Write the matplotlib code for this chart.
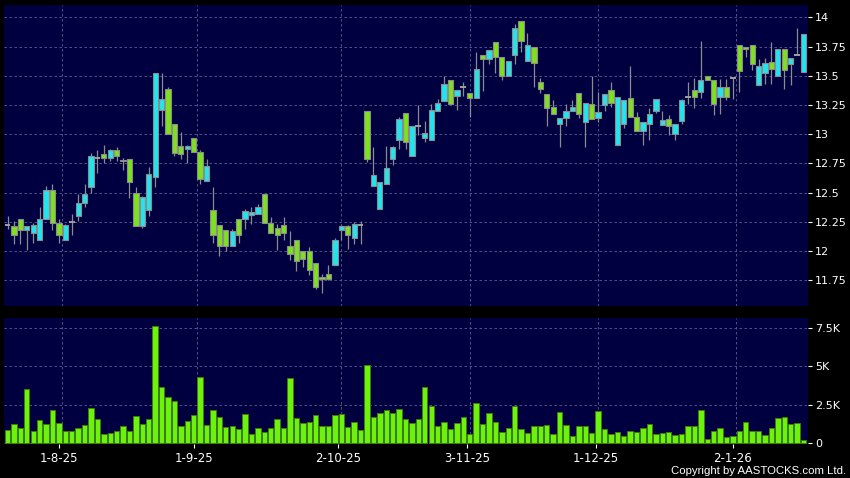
import numpy as np
import matplotlib
matplotlib.use("Agg")
import matplotlib.pyplot as plt
from matplotlib.ticker import FuncFormatter

# daily candles, oldest first
opens = [12.22, 12.21, 12.27, 12.18, 12.15, 12.09, 12.27, 12.52, 12.24, 12.09,
         12.25, 12.30, 12.41, 12.55, 12.80, 12.83, 12.80, 12.86, 12.77, 12.79,
         12.50, 12.21, 12.35, 12.63, 13.21, 13.39, 13.09, 12.90, 12.87, 12.97,
         12.85, 12.60, 12.35, 12.22, 12.18, 12.04, 12.27, 12.27, 12.31, 12.32,
         12.49, 12.24, 12.20, 12.22, 12.04, 12.09, 12.00, 12.00, 11.90, 11.78,
         11.80, 11.88, 12.18, 12.21, 12.11, 12.22, 13.20, 12.56, 12.36, 12.57,
         12.79, 12.95, 13.18, 12.81, 13.07, 12.97, 12.95, 13.20, 13.28, 13.46,
         13.33, 13.40, 13.35, 13.31, 13.68, 13.64, 13.79, 13.66, 13.50, 13.68,
         13.97, 13.63, 13.75, 13.45, 13.34, 13.23, 13.09, 13.14, 13.20, 13.35,
         13.10, 13.26, 13.14, 13.25, 13.38, 12.91, 13.09, 13.31, 13.15, 13.03,
         13.09, 13.20, 13.08, 13.13, 13.00, 13.11, 13.32, 13.38, 13.36, 13.50,
         13.46, 13.32, 13.40, 13.48, 13.76, 13.75, 13.76, 13.42, 13.52, 13.62,
         13.50, 13.73, 13.60, 13.68, 13.53]
highs = [12.30, 12.26, 12.27, 12.21, 12.24, 12.38, 12.56, 12.57, 12.27, 12.23,
         12.32, 12.49, 12.57, 12.84, 12.86, 12.91, 12.87, 12.89, 12.80, 12.79,
         12.55, 12.47, 12.72, 13.52, 13.52, 13.40, 13.09, 13.02, 12.91, 12.97,
         12.86, 12.79, 12.55, 12.22, 12.18, 12.19, 12.27, 12.36, 12.38, 12.40,
         12.49, 12.29, 12.23, 12.29, 12.17, 12.09, 12.00, 12.03, 11.90, 11.80,
         11.88, 12.11, 12.22, 12.22, 12.25, 12.26, 13.20, 12.89, 12.59, 12.90,
         12.90, 13.15, 13.18, 13.07, 13.25, 13.11, 13.26, 13.30, 13.50, 13.46,
         13.38, 13.45, 13.35, 13.70, 13.68, 13.72, 13.79, 13.66, 13.63, 13.94,
         13.97, 13.87, 13.75, 13.48, 13.34, 13.29, 13.14, 13.26, 13.29, 13.35,
         13.27, 13.50, 13.36, 13.34, 13.45, 13.32, 13.29, 13.58, 13.19, 13.10,
         13.22, 13.30, 13.20, 13.16, 13.09, 13.30, 13.45, 13.48, 13.80, 13.50,
         13.46, 13.47, 13.47, 13.48, 13.76, 13.75, 13.76, 13.64, 13.65, 13.79,
         13.73, 13.73, 13.65, 13.91, 13.86]
lows = [12.19, 12.06, 12.06, 12.01, 12.07, 12.09, 12.27, 12.18, 12.07, 12.09,
        12.14, 12.26, 12.38, 12.50, 12.67, 12.75, 12.77, 12.77, 12.69, 12.45,
        12.21, 12.20, 12.30, 12.55, 13.07, 13.00, 12.81, 12.79, 12.75, 12.85,
        12.57, 12.60, 12.07, 11.96, 12.00, 12.04, 12.07, 12.19, 12.23, 12.32,
        12.24, 12.15, 12.01, 12.09, 11.92, 11.83, 11.86, 11.79, 11.67, 11.64,
        11.75, 11.88, 12.09, 12.02, 12.06, 12.06, 12.76, 12.56, 12.36, 12.57,
        12.74, 12.87, 12.87, 12.81, 12.99, 12.93, 12.95, 13.20, 13.28, 13.26,
        13.21, 13.33, 13.15, 13.31, 13.37, 13.60, 13.52, 13.46, 13.50, 13.60,
        13.70, 13.63, 13.40, 13.35, 13.07, 13.17, 12.89, 13.07, 13.20, 13.14,
        12.89, 13.13, 13.10, 13.20, 13.23, 12.91, 13.05, 13.15, 13.03, 12.91,
        12.95, 13.18, 13.08, 12.99, 12.95, 13.09, 13.26, 13.22, 13.31, 13.46,
        13.16, 13.17, 13.29, 13.30, 13.36, 13.66, 13.55, 13.42, 13.43, 13.43,
        13.50, 13.39, 13.42, 13.68, 13.53]
closes = [12.22, 12.14, 12.18, 12.21, 12.22, 12.27, 12.52, 12.24, 12.14, 12.22,
          12.25, 12.41, 12.49, 12.81, 12.80, 12.80, 12.86, 12.81, 12.78, 12.59,
          12.21, 12.46, 12.66, 13.52, 13.30, 13.00, 12.84, 12.83, 12.90, 12.85,
          12.62, 12.73, 12.14, 12.04, 12.04, 12.17, 12.14, 12.34, 12.33, 12.38,
          12.24, 12.15, 12.14, 12.15, 11.97, 11.91, 11.93, 11.84, 11.69, 11.76,
          11.76, 12.09, 12.21, 12.14, 12.23, 12.22, 12.79, 12.65, 12.59, 12.71,
          12.89, 13.13, 12.93, 13.07, 13.07, 13.01, 13.21, 13.27, 13.43, 13.26,
          13.38, 13.40, 13.31, 13.56, 13.64, 13.72, 13.66, 13.50, 13.63, 13.91,
          13.80, 13.76, 13.61, 13.39, 13.22, 13.17, 13.14, 13.20, 13.23, 13.17,
          13.27, 13.13, 13.19, 13.34, 13.27, 13.32, 13.29, 13.15, 13.03, 13.10,
          13.17, 13.30, 13.12, 13.07, 13.09, 13.29, 13.32, 13.32, 13.46, 13.46,
          13.26, 13.40, 13.32, 13.48, 13.54, 13.73, 13.60, 13.58, 13.61, 13.56,
          13.73, 13.55, 13.65, 13.68, 13.86]
volumes = [900, 1290, 990, 3510, 820, 1500, 1250, 2170, 1330, 820,
           800, 990, 1220, 2280, 1550, 600, 670, 800, 1100, 800,
           1780, 1270, 1550, 7610, 3680, 2990, 2750, 1160, 1480, 1810,
           4280, 1180, 2170, 1720, 1080, 1100, 950, 1910, 600, 1010,
           730, 990, 1550, 1030, 4260, 1660, 1310, 1400, 1870, 1100,
           1160, 1810, 1910, 1050, 1400, 860, 5100, 1680, 1940, 2150,
           2000, 2220, 1570, 1330, 1590, 3680, 2410, 1120, 1400, 930,
           1340, 1680, 600, 2600, 1230, 1940, 1380, 750, 1030, 2430,
           930, 650, 1100, 1100, 1180, 600, 2050, 1210, 470, 1100,
           1140, 650, 2070, 950, 620, 710, 470, 780, 710, 990,
           1230, 620, 650, 750, 540, 580, 1140, 1120, 2150, 280,
           820, 970, 390, 470, 780, 1380, 820, 800, 560, 1010,
           1620, 1720, 1250, 1340, 220]

date_labels = ["1-8-25", "1-9-25", "2-10-25", "3-11-25", "1-12-25", "2-1-26"]
date_index = [8, 29, 51.5, 71.6, 91.6, 113]

price_ticks = [11.75, 12, 12.25, 12.5, 12.75, 13, 13.25, 13.5, 13.75, 14]
vol_ticks = [0, 2500, 5000, 7500]

o = np.array(opens)
h = np.array(highs)
l = np.array(lows)
c = np.array(closes)
x = np.arange(len(o))

BG = "#000040"
GRID = "#5e5e90"
UP = "#22e4ee"
DOWN = "#7ee01e"
EDGE = "#8c8c8c"

fig = plt.figure(figsize=(8.5, 4.78), dpi=100, facecolor="black")
ax = fig.add_axes([0.0047, 0.3598, 0.9459, 0.6297], facecolor=BG)
axv = fig.add_axes([0.0047, 0.0711, 0.9459, 0.2626], facecolor=BG)

# wicks
ax.vlines(x, l, h, color=EDGE, linewidth=0.9, zorder=2)

up = c > o
down = c < o
flat = c == o
ax.bar(x[up], (c - o)[up], bottom=o[up], width=0.82, color=UP,
       edgecolor=EDGE, linewidth=0.8, zorder=3)
ax.bar(x[down], (o - c)[down], bottom=c[down], width=0.82, color=DOWN,
       edgecolor=EDGE, linewidth=0.8, zorder=3)
ax.hlines(c[flat], x[flat] - 0.45, x[flat] + 0.45, color="#a0a0a0",
          linewidth=1.4, zorder=3)

axv.bar(x, volumes, width=0.84, color="#6cf20c", edgecolor="#3b7d10",
        linewidth=0.7, zorder=3)

for a in (ax, axv):
    a.set_xlim(-0.55, 124.7)
    for s in a.spines.values():
        s.set_visible(False)
    a.yaxis.tick_right()
    a.tick_params(axis="y", colors="white", length=3, width=0.8, pad=2,
                  labelsize=8)
    a.grid(axis="y", color=GRID, linestyle=(0, (3, 3)), linewidth=0.6,
           zorder=1)
    for d in date_index:
        a.axvline(d + 0.45, color=GRID, linestyle=(0, (3, 3)), linewidth=0.6,
                  zorder=1)

ax.set_ylim(11.528, 14.106)
ax.set_yticks(price_ticks)
ax.yaxis.set_major_formatter(FuncFormatter(lambda v, p: f"{v:g}"))
ax.set_xticks([])

axv.set_ylim(-40, 8100)
axv.set_yticks(vol_ticks)
axv.yaxis.set_major_formatter(
    FuncFormatter(lambda v, p: "0" if v == 0 else f"{v / 1000:g}K"))
axv.set_xticks(date_index)
axv.set_xticklabels(date_labels)
axv.tick_params(axis="x", colors="white", length=3, width=0.8, pad=3,
                labelsize=8.5)

fig.text(0.9953, 0.0146, "Copyright by AASTOCKS.com Ltd.", color="white",
         ha="right", va="center", fontsize=8.2, family="Liberation Sans")

fig.savefig("out.png", dpi=100, facecolor="black")
